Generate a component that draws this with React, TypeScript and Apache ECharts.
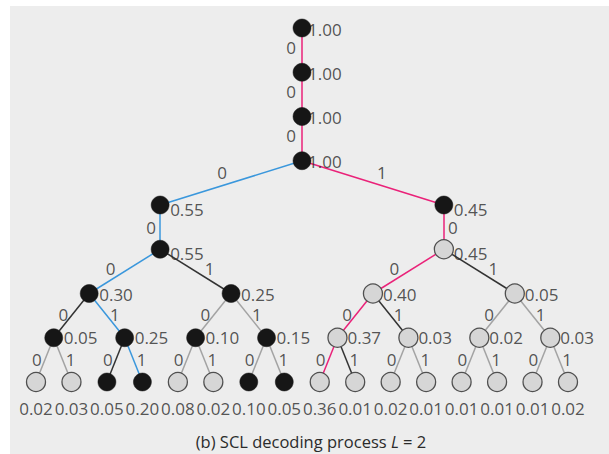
import React, { useEffect, useRef } from "react";
import * as echarts from "echarts";

// ---- data ----
// node path metrics per level (level 0..8), left to right
const level0to3Values = [1.0, 1.0, 1.0, 1.0];
const level4Values = [0.55, 0.45];
const level5Values = [0.55, 0.45];
const level6Values = [0.3, 0.25, 0.4, 0.05];
const level7Values = [0.05, 0.25, 0.1, 0.15, 0.37, 0.03, 0.02, 0.03];
const leafValues = [0.02, 0.03, 0.05, 0.2, 0.08, 0.02, 0.1, 0.05, 0.36, 0.01, 0.02, 0.01, 0.01, 0.01, 0.01, 0.02];

// 1 = node kept in list (black), 0 = discarded (gray)
const level4Kept = [1, 1];
const level5Kept = [1, 0];
const level6Kept = [1, 1, 0, 0];
const level7Kept = [1, 1, 1, 1, 0, 0, 0, 0];
const leafKept = [0, 0, 1, 1, 0, 0, 1, 1, 0, 0, 0, 0, 0, 0, 0, 0];

// edge into each node: p = pink path, b = blue path, d = dark candidate, g = gray pruned
const level1to3Edges = ["p", "p", "p"];
const level4Edges = ["b", "p"];
const level5Edges = ["b", "p"];
const level6Edges = ["b", "d", "p", "d"];
const level7Edges = ["d", "b", "g", "g", "p", "d", "g", "g"];
const leafEdges = ["g", "g", "d", "b", "g", "g", "g", "g", "p", "d", "g", "g", "g", "g", "g", "g"];

// frozen levels: the single edge carries bit 0
const frozenLevels = [1, 2, 3, 5];

const caption = "(b) SCL decoding process ";
const captionVar = "L";
const captionTail = " = 2";

const FONT = "'Open Sans', 'Noto Sans', sans-serif";
const TXT = "#2b2b2b";
const EDGE_COLORS: Record<string, string> = {
  p: "#ea2279",
  b: "#3a97dc",
  d: "#333333",
  g: "#a3a3a3",
};

type Node = { level: number; idx: number; x: number; value: number; kept: boolean; edge: string | null };

function buildLevels() {
  const values: number[][] = [
    [level0to3Values[0]],
    [level0to3Values[1]],
    [level0to3Values[2]],
    [level0to3Values[3]],
    level4Values,
    level5Values,
    level6Values,
    level7Values,
    leafValues,
  ];
  const kept: number[][] = [[1], [1], [1], [1], level4Kept, level5Kept, level6Kept, level7Kept, leafKept];
  const edges: (string | null)[][] = [
    [null],
    [level1to3Edges[0]],
    [level1to3Edges[1]],
    [level1to3Edges[2]],
    level4Edges,
    level5Edges,
    level6Edges,
    level7Edges,
    leafEdges,
  ];
  const leafCount = leafValues.length;
  const levels: Node[][] = values.map((vals, level) =>
    vals.map((v, idx) => ({
      level,
      idx,
      x: ((idx + 0.5) * leafCount) / vals.length - 0.5,
      value: v,
      kept: kept[level][idx] === 1,
      edge: edges[level][idx],
    }))
  );
  return levels;
}

export default function App() {
  const ref = useRef<HTMLDivElement>(null);
  useEffect(() => {
    if (!ref.current) return;
    const chart = echarts.init(ref.current, null, { renderer: "svg" });
    const levels = buildLevels();

    const edgeData: any[] = [];
    const edgeLabelData: any[] = [];
    // per-level edge label offsets (px): [dx magnitude, dy]
    const edgeOffsets: Record<number, [number, number]> = {
      1: [11, -3],
      2: [11, -3],
      3: [11, -3],
      4: [9, -10],
      5: [9, 0],
      6: [14, -3],
      7: [8, -1],
      8: [8, 0],
    };
    for (let level = 1; level < levels.length; level++) {
      const prev = levels[level - 1];
      const cur = levels[level];
      cur.forEach((n) => {
        const parent = prev[Math.floor((n.idx * prev.length) / cur.length)];
        edgeData.push({
          coords: [
            [parent.x, parent.level],
            [n.x, n.level],
          ],
          lineStyle: { color: EDGE_COLORS[n.edge as string], width: 1.5, opacity: 1 },
        });
        const single = prev.length === cur.length;
        const bit = frozenLevels.includes(level) || single ? 0 : n.idx % 2;
        const side = cur.length === 1 ? -1 : n.idx % 2 === 0 ? -1 : 1;
        const [dx, dy] = edgeOffsets[level];
        edgeLabelData.push({
          value: [(parent.x + n.x) / 2, (parent.level + n.level) / 2],
          label: { offset: [side * dx, dy] },
          name: String(bit),
        });
      });
    }

    const nodeData: any[] = [];
    const nodeLabelData: any[] = [];
    const leafLevel = levels.length - 1;
    levels.forEach((lv) =>
      lv.forEach((n) => {
        nodeData.push({
          value: [n.x, n.level],
          symbolSize: n.kept ? 18 : 19,
          itemStyle: n.kept
            ? { color: "#161616", borderColor: "#161616", borderWidth: 0.5, opacity: 1 }
            : { color: "#d6d6d6", borderColor: "#505050", borderWidth: 1.3, opacity: 1 },
        });
        const isLeaf = n.level === leafLevel;
        const isTop = n.level <= 3;
        nodeLabelData.push({
          value: [n.x, n.level],
          name: n.value.toFixed(2),
          label: isLeaf
            ? { position: "bottom", distance: 8, offset: [0, 2] }
            : {
                position: "right",
                distance: isTop ? -3 : 1,
                offset: [0, isTop ? 1 : n.level <= 5 ? 4 : n.level === 6 ? 1 : 0],
              },
        });
      })
    );

    chart.setOption({
      animation: false,
      backgroundColor: "#ffffff",
      textStyle: { fontFamily: FONT },
      graphic: [
        {
          type: "rect",
          shape: { x: 10, y: 6, width: 599, height: 448 },
          style: { fill: "#ededed" },
          z: -10,
          silent: true,
        },
        {
          type: "text",
          x: 311,
          y: 441,
          style: {
            text: `{a|${caption}}{i|${captionVar}}{a|${captionTail}}`,
            align: "center",
            verticalAlign: "middle",
            rich: {
              a: { fontFamily: FONT, fontSize: 16.5, fill: TXT },
              i: { fontFamily: FONT, fontSize: 16.5, fill: TXT, fontStyle: "italic" },
            },
          },
          z: 10,
        },
      ],
      grid: { left: 36, right: 41, top: 28, bottom: 72 },
      xAxis: { type: "value", min: 0, max: leafValues.length - 1, show: false },
      yAxis: { type: "value", min: 0, max: leafLevel, inverse: true, show: false },
      series: [
        {
          type: "lines",
          coordinateSystem: "cartesian2d",
          z: 1,
          silent: true,
          data: edgeData,
        },
        {
          type: "scatter",
          z: 2,
          symbolSize: 18,
          itemStyle: { color: "rgba(0,0,0,0)" },
          silent: true,
          label: {
            show: true,
            formatter: "{b}",
            fontFamily: FONT,
            fontSize: 17,
            lineHeight: 15,
            color: TXT,
          },
          data: nodeLabelData,
        },
        {
          type: "scatter",
          z: 3,
          silent: true,
          data: nodeData,
        },
        {
          type: "scatter",
          z: 4,
          symbolSize: 0,
          silent: true,
          label: {
            show: true,
            position: "inside",
            formatter: "{b}",
            fontFamily: FONT,
            fontSize: 17,
            lineHeight: 15,
            color: TXT,
          },
          data: edgeLabelData,
        },
      ],
    });
    return () => chart.dispose();
  }, []);
  return (
    <div
      ref={ref}
      style={{ position: "fixed", left: 0, top: 0, width: 609, height: 454 }}
    />
  );
}
